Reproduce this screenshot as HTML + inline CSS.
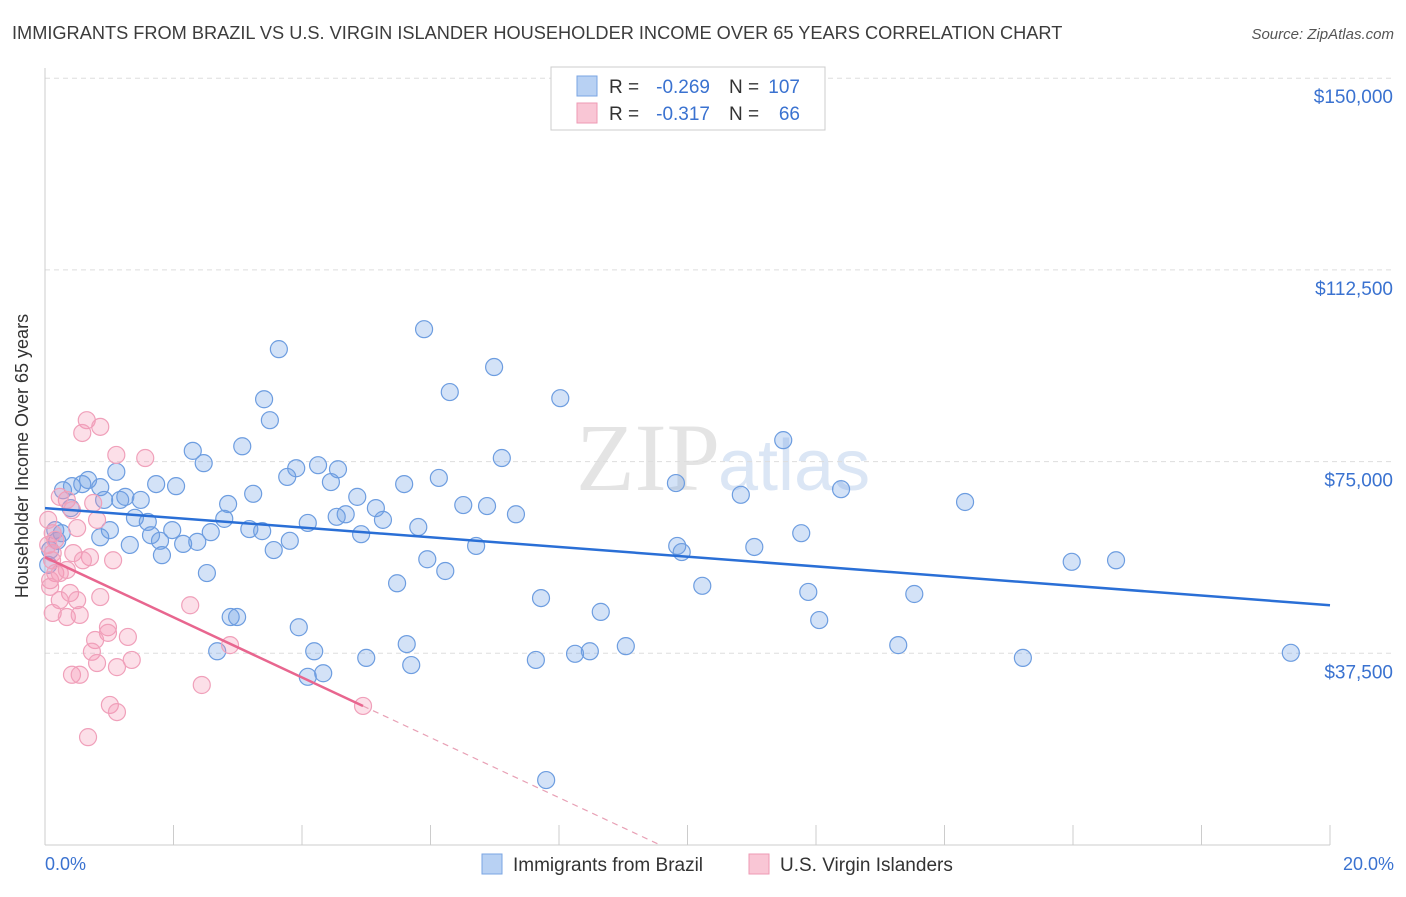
<!DOCTYPE html>
<html><head><meta charset="utf-8"><style>
body{margin:0;background:#fff;font-family:"Liberation Sans",sans-serif;}
</style></head><body>
<svg id="c" width="1406" height="892" xmlns="http://www.w3.org/2000/svg">
<text x="12" y="39" font-size="18.2" fill="#3c3c3c">IMMIGRANTS FROM BRAZIL VS U.S. VIRGIN ISLANDER HOUSEHOLDER INCOME OVER 65 YEARS CORRELATION CHART</text>
<text x="1394" y="39" font-size="15" fill="#555" text-anchor="end" font-style="italic">Source: ZipAtlas.com</text>
<text x="720" y="490" font-size="96" font-family="Liberation Serif,serif" fill="#e4e4e4" text-anchor="end">ZIP</text>
<text x="718" y="490" font-size="72" fill="#dbe6f5">atlas</text>
<g id="grid"></g>
<line x1="45" y1="68" x2="45" y2="845" stroke="#ccc"/>
<line x1="45" y1="845" x2="1330" y2="845" stroke="#ccc"/>
<g id="xt"></g>
<text x="28" y="456" font-size="18" fill="#333" text-anchor="middle" transform="rotate(-90 28 456)">Householder Income Over 65 years</text>
<text x="45" y="870" font-size="18" fill="#3a72d0">0.0%</text>
<text x="1394" y="870" font-size="18" fill="#3a72d0" text-anchor="end">20.0%</text>
<g id="pts"></g>
<g id="lines"></g>
<g>
<rect x="551" y="67" width="274" height="63" fill="#fff" stroke="#ccc"/>
<rect x="577" y="76" width="20" height="20" fill="#b8d1f3" stroke="#7aa5e3"/>
<rect x="577" y="103" width="20" height="20" fill="#f9c6d5" stroke="#ee9ab4"/>
<g font-size="19">
<text x="609" y="93" fill="#333">R =</text>
<text x="710" y="93" fill="#3a72d0" text-anchor="end">-0.269</text>
<text x="729" y="93" fill="#333">N =</text>
<text x="800" y="93" fill="#3a72d0" text-anchor="end">107</text>
<text x="609" y="120" fill="#333">R =</text>
<text x="710" y="120" fill="#3a72d0" text-anchor="end">-0.317</text>
<text x="729" y="120" fill="#333">N =</text>
<text x="800" y="120" fill="#3a72d0" text-anchor="end">66</text>
</g>
</g>
<g>
<rect x="482" y="854" width="20" height="20" fill="#b8d1f3" stroke="#7aa5e3"/>
<text x="513" y="871" font-size="19" fill="#333">Immigrants from Brazil</text>
<rect x="749" y="854" width="20" height="20" fill="#f9c6d5" stroke="#ee9ab4"/>
<text x="780" y="871" font-size="19" fill="#333">U.S. Virgin Islanders</text>
</g>
</svg>
<script>
const yTicks=[37.5,75,112.5,150];
const yTickLabels=["$37,500","$75,000","$112,500","$150,000"];
const xTicks=[0,2,4,6,8,10,12,14,16,18,20];
const blueX=[5.90,3.64,6.99,6.30,8.02,3.41,3.50,11.49,2.30,3.07,2.47,1.11,0.67,1.73,2.04,7.11,3.91,4.25,4.56,3.77,4.45,6.13,5.59,9.82,10.83,12.39,14.32,0.28,0.42,0.58,0.86,0.92,1.17,1.25,1.49,3.24,4.86,2.85,6.51,6.88,5.15,4.68,4.54,7.33,5.26,0.40,1.01,1.40,1.60,1.98,2.79,4.09,5.81,0.16,0.26,0.86,1.32,1.79,1.65,2.15,2.37,2.58,3.18,3.38,4.92,3.81,6.71,3.56,1.82,5.95,9.84,9.91,11.04,11.77,0.19,0.08,0.05,2.52,6.23,5.48,10.23,11.88,15.98,16.67,7.72,8.65,13.53,2.89,2.99,3.95,12.05,5.63,4.19,2.68,9.04,13.28,8.25,8.48,5.00,5.70,7.64,15.22,19.39,4.33,4.09,7.80];
const blueY=[100.9,97.0,93.5,88.6,87.4,87.2,83.1,79.2,77.1,78.0,74.7,73.0,71.4,70.6,70.2,75.7,73.7,74.3,73.5,72.0,71.0,71.8,70.6,70.8,68.5,69.6,67.1,69.4,70.2,70.6,70.0,67.5,67.5,68.1,67.5,68.7,68.1,66.7,66.5,66.3,65.9,64.7,64.2,64.7,63.6,65.9,61.6,64.0,63.2,61.6,63.8,63.0,62.2,61.6,61.0,60.2,58.7,59.5,60.6,58.9,59.3,61.2,61.8,61.4,60.8,59.5,58.5,57.7,56.7,55.9,58.5,57.3,58.3,61.0,59.5,57.7,54.8,53.2,53.6,51.2,50.7,49.5,55.4,55.7,48.3,45.6,49.1,44.6,44.6,42.6,44.0,39.3,37.9,37.9,38.9,39.1,37.4,37.9,36.6,35.2,36.2,36.6,37.6,33.6,32.9,12.7];
const pinkX=[0.65,0.86,0.58,1.11,1.56,0.34,0.23,0.75,0.50,0.81,0.12,0.44,0.70,1.06,0.59,0.12,0.16,0.08,0.23,0.34,0.86,0.39,0.50,0.23,0.12,0.34,0.54,2.26,0.98,0.98,1.29,0.78,0.73,0.81,1.12,1.35,0.42,0.54,2.44,2.88,1.01,1.12,0.67,0.08,0.16,0.42,4.95,0.05,0.05,0.11];
const pinkY=[83.1,81.8,80.6,76.3,75.7,67.5,68.1,66.9,62.0,63.6,61.0,57.1,56.3,55.7,55.7,57.1,53.2,51.8,53.2,53.8,48.5,49.3,47.9,47.9,45.4,44.6,45.0,46.9,42.6,41.5,40.7,40.1,37.8,35.6,34.8,36.2,33.3,33.3,31.3,39.1,27.4,26.0,21.1,50.5,59.7,65.5,27.2,58.7,63.6,55.7];
const blueTrend=[65.9,46.9];
const pinkTrend=[56.3,-5.88];
const NS="http://www.w3.org/2000/svg";
const sx=v=>45+v*64.25;
const sy=v=>845-v*191.7/37.5;
function mk(t,a,p){const e=document.createElementNS(NS,t);for(const k in a)e.setAttribute(k,a[k]);document.getElementById(p).appendChild(e);return e;}
yTicks.forEach((t,i)=>{
 const l=mk('line',{x1:45,x2:1394,y1:sy(t),y2:sy(t),stroke:'#ddd','stroke-dasharray':'5,4'},'grid');
 
 
 const tx=mk('text',{x:1393,y:sy(t)+25,'font-size':19,fill:'#3a72d0','text-anchor':'end'},'grid');
 tx.textContent=yTickLabels[i];
 
 
});
xTicks.forEach(t=>{
 const l=mk('line',{x1:sx(t),x2:sx(t),y1:825,y2:845,stroke:'#ccc'},'xt');
 
 
});
blueX.forEach((x,i)=>{
 const c=mk('circle',{cx:sx(x),cy:sy(blueY[i]),r:8.5,fill:'rgba(110,160,230,0.3)',stroke:'#6d9de0','stroke-width':1.2},'pts');
 
 
});
pinkX.forEach((x,i)=>{
 const c=mk('circle',{cx:sx(x),cy:sy(pinkY[i]),r:8.5,fill:'rgba(245,150,180,0.3)',stroke:'#f0a0ba','stroke-width':1.2},'pts');
 
 
});
const bl=mk('line',{x1:sx(0),y1:sy(blueTrend[0]),x2:sx(20),y2:sy(blueTrend[1]),stroke:'#2a6fd6','stroke-width':2.5},'lines');


const pe=4.95, pz=-pinkTrend[0]/pinkTrend[1];
const pl=mk('line',{x1:sx(0),y1:sy(pinkTrend[0]),x2:sx(pe),y2:sy(pinkTrend[0]+pinkTrend[1]*pe),stroke:'#e8668f','stroke-width':2.5},'lines');


const pd=mk('line',{x1:sx(pe),y1:sy(pinkTrend[0]+pinkTrend[1]*pe),x2:sx(pz),y2:sy(0),stroke:'#e8a0b5','stroke-width':1.2,'stroke-dasharray':'6,5'},'lines');


</script>
</body></html>
